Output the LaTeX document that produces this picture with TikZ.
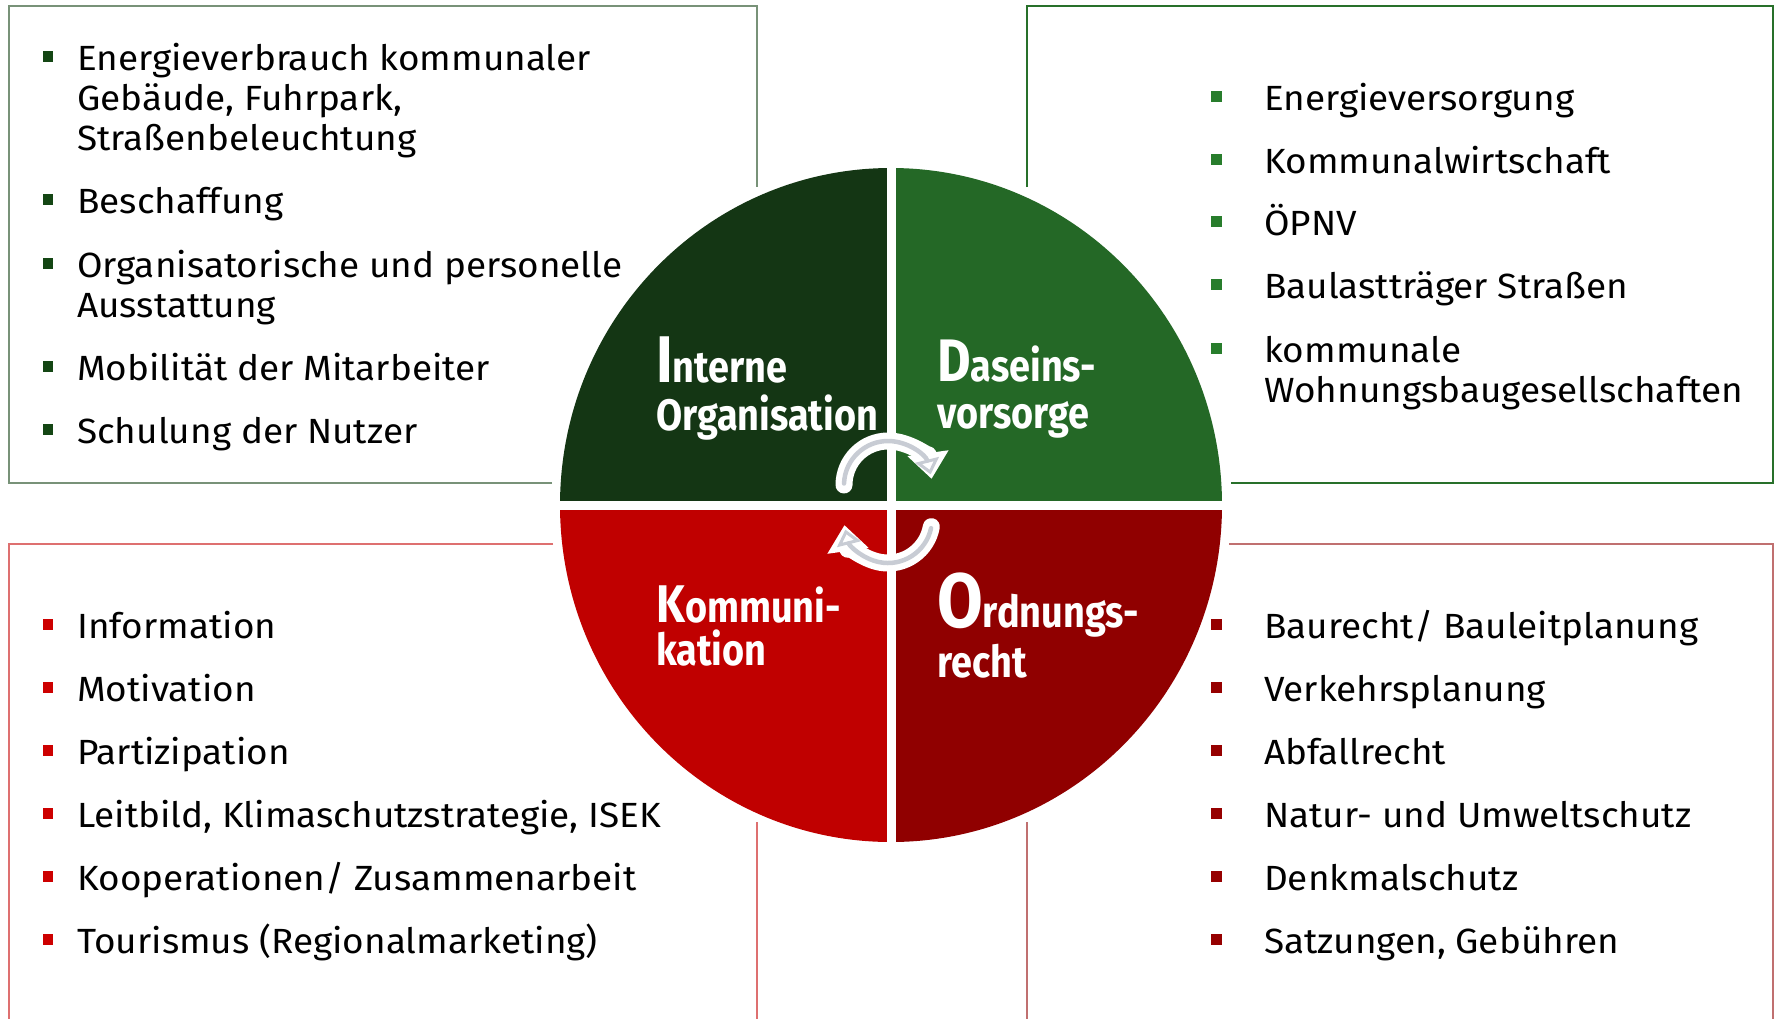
\documentclass[tikz,border=0pt]{standalone}
\usepackage{fontspec}
\setmainfont{Fira Sans}
\newfontfamily\itemfam{Fira Sans}[FakeStretch=1.055]
\newfontfamily\labfam{Fira Sans}[FakeStretch=0.86]
\usetikzlibrary{arrows.meta}
\definecolor{qTL}{RGB}{20,54,20}
\definecolor{qTR}{RGB}{36,104,38}
\definecolor{qBL}{RGB}{192,0,0}
\definecolor{qBR}{RGB}{144,0,0}
\definecolor{bTL}{RGB}{20,70,20}
\definecolor{bTR}{RGB}{40,125,44}
\definecolor{bBL}{RGB}{205,0,0}
\definecolor{bBR}{RGB}{150,0,0}
\definecolor{fTL}{RGB}{120,146,120}
\definecolor{fTR}{RGB}{40,112,42}
\definecolor{fBL}{RGB}{222,112,112}
\definecolor{fBR}{RGB}{192,112,112}
\definecolor{arrowgray}{RGB}{200,204,212}
\newcommand{\itemsize}{\itemfam\fontsize{35}{40}\selectfont}
\newcommand{\labsize}{\labfam\bfseries\fontsize{44}{44}\selectfont}
\newcommand{\initial}[2]{{\fontsize{#1}{#1}\selectfont #2}}
\begin{document}
\begin{tikzpicture}[x=1pt,y=1pt]
\tikzset{
  frame/.style={line width=2.2pt},
  itemtext/.style={anchor=base west, inner sep=0pt, font=\itemsize},
  bulsq/.style={rectangle, inner sep=0pt, minimum width=10.5pt, minimum height=10.5pt},
  lab/.style={anchor=base west, inner sep=0pt, text=white, font=\labsize},
  arrbase/.style={white, line width=17pt, line cap=round, -{Triangle[length=26pt,width=40pt]}},
  arrgray/.style={arrowgray, line width=4.5pt, line cap=round, -{Triangle[open,length=15pt,width=24pt,line width=3pt]}},
  gap/.style={white, line width=9pt}
}
\useasboundingbox (0,0) rectangle (1779,-1018);
\fill[white] (0,0) rectangle (1779,-1018);

% frames
\draw[frame, fTL] (552,-483) -- (9,-483) -- (9,-6) -- (757,-6) -- (757,-187);
\draw[frame, fTR] (1027,-187) -- (1027,-6) -- (1773,-6) -- (1773,-483) -- (1231,-483);
\draw[frame, fBL] (553,-544) -- (9,-544) -- (9,-1025);
\draw[frame, fBL] (757,-822) -- (757,-1025);
\draw[frame, fBR] (1229,-544) -- (1773,-544) -- (1773,-1025);
\draw[frame, fBR] (1027,-822) -- (1027,-1025);

% quadrants
\coordinate (c) at (891,-505);
\fill[qTL] (c) -- ++(-331,0) arc[start angle=180, end angle=90, x radius=331, y radius=337] -- cycle;
\fill[qTR] (c) -- ++(0,337) arc[start angle=90, end angle=0, x radius=331, y radius=337] -- cycle;
\fill[qBR] (c) -- ++(331,0) arc[start angle=0, end angle=-90, x radius=331, y radius=337] -- cycle;
\fill[qBL] (c) -- ++(0,-337) arc[start angle=-90, end angle=-180, x radius=331, y radius=337] -- cycle;
\coordinate (gt) at (891,-150);
\coordinate (gb) at (891,-860);
\coordinate (gl) at (540,-505);
\coordinate (gr) at (1240,-505);
\draw[gap] (gt) -- (gb);
\draw[gap] (gl) -- (gr);

% quadrant labels
\node[lab] (l1a) at (656,-382.7) {\initial{66}{I}nterne};
\node[lab] (l1b) at (656,-430) {Organisation};
\node[lab] (l2a) at (937,-381) {\initial{60}{D}aseins-};
\node[lab] (l2b) at (937,-428) {vorsorge};
\node[lab] (l3a) at (656,-622) {\initial{53}{K}ommuni-};
\node[lab] (l3b) at (656,-665) {kation};
\node[lab] (l4a) at (937,-627) {\initial{77}{O}rdnungs-};
\node[lab] (l4b) at (937,-677) {recht};

% cycle arrows
\coordinate (ac1) at (888,-485);
\coordinate (ac2) at (888,-519);
\draw[arrbase] (ac1) ++(180:44) arc[start angle=180, end angle=8, radius=44];
\draw[arrgray] (ac1) ++(178:44) arc[start angle=178, end angle=14, radius=44];
\draw[arrbase] (ac2) ++(-10:44) arc[start angle=-10, end angle=-172, radius=44];
\draw[arrgray] (ac2) ++(-12:44) arc[start angle=-12, end angle=-166, radius=44];

% top-left items
\foreach \y in {70,213,277,380,443} \node[bulsq, fill=bTL] at (48,-\y+13.5) {};
\node[itemtext] (tl1a) at (77,-70) {Energieverbrauch kommunaler};
\node[itemtext] (tl1b) at (77,-110) {Gebäude, Fuhrpark,};
\node[itemtext] (tl1c) at (77,-150) {Straßenbeleuchtung};
\node[itemtext] (tl2) at (77,-213) {Beschaffung};
\node[itemtext] (tl3a) at (77,-277) {Organisatorische und personelle};
\node[itemtext] (tl3b) at (77,-317) {Ausstattung};
\node[itemtext] (tl4) at (77,-380) {Mobilität der Mitarbeiter};
\node[itemtext] (tl5) at (77,-443) {Schulung der Nutzer};

% top-right items
\foreach \y in {110,173,235,298,362} \node[bulsq, fill=bTR] at (1216.5,-\y+13.5) {};
\node[itemtext] (tr1) at (1264,-110) {Energieversorgung};
\node[itemtext] (tr2) at (1264,-173) {Kommunalwirtschaft};
\node[itemtext] (tr3) at (1264,-235) {ÖPNV};
\node[itemtext] (tr4) at (1264,-298) {Baulastträger Straßen};
\node[itemtext] (tr5a) at (1264,-362) {kommunale};
\node[itemtext] (tr5b) at (1264,-402) {Wohnungsbaugesellschaften};

% bottom-left items
\foreach \y in {638,701,764,827,890,953} \node[bulsq, fill=bBL] at (48,-\y+13.5) {};
\node[itemtext] (bl1) at (77,-638) {Information};
\node[itemtext] (bl2) at (77,-701) {Motivation};
\node[itemtext] (bl3) at (77,-764) {Partizipation};
\node[itemtext] (bl4) at (77,-827) {Leitbild, Klimaschutzstrategie, ISEK};
\node[itemtext] (bl5) at (77,-890) {Kooperationen/ Zusammenarbeit};
\node[itemtext] (bl6) at (77,-953) {Tourismus (Regionalmarketing)};

% bottom-right items
\foreach \y in {638,701,764,827,890,953} \node[bulsq, fill=bBR] at (1216.5,-\y+13.5) {};
\node[itemtext] (br1) at (1264,-638) {Baurecht/ Bauleitplanung};
\node[itemtext] (br2) at (1264,-701) {Verkehrsplanung};
\node[itemtext] (br3) at (1264,-764) {Abfallrecht};
\node[itemtext] (br4) at (1264,-827) {Natur- und Umweltschutz};
\node[itemtext] (br5) at (1264,-890) {Denkmalschutz};
\node[itemtext] (br6) at (1264,-953) {Satzungen, Gebühren};
\end{tikzpicture}
\end{document}
